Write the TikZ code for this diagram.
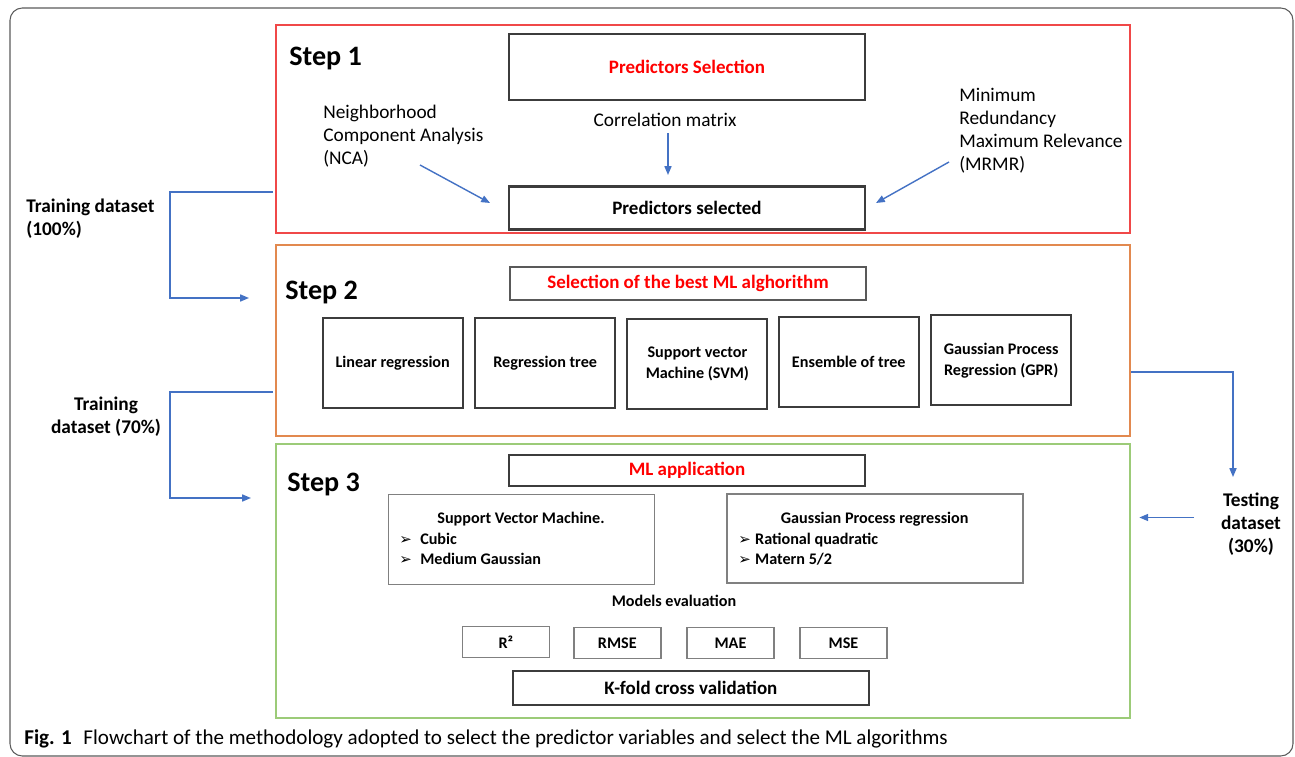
\documentclass[tikz,border=0pt]{standalone}
\usepackage{fontspec}
\setmainfont{Carlito}
\newfontfamily\dejavu{DejaVu Sans}
\usetikzlibrary{arrows.meta}
\definecolor{stepred}{HTML}{F04848}
\definecolor{steporange}{HTML}{E2894F}
\definecolor{stepgreen}{HTML}{9CCB78}
\definecolor{flowblue}{HTML}{4472C4}
\definecolor{boxdark}{HTML}{3C3C3C}
\definecolor{boxgray}{HTML}{808080}
\definecolor{titlered}{HTML}{FF0000}
\definecolor{framegray}{HTML}{5A5A5A}
\newcommand{\arrowbullet}[1]{\makebox[#1][l]{\dejavu\fontsize{8.5}{9}\selectfont ➢}}
\begin{document}
\begin{tikzpicture}[x=0.02cm,y=-0.02cm,
  panel/.style={draw, line width=0.75pt, inner sep=0, minimum width=17.08cm},
  thickbox/.style={draw=boxdark, line width=1.2pt, inner sep=0, minimum width=7.12cm, align=center, font=\bfseries\fontsize{10.8}{13}\selectfont},
  midbox/.style={draw=boxdark!85, line width=1pt, inner sep=0, minimum width=7.12cm, align=center, font=\bfseries\fontsize{10.8}{13}\selectfont},
  algbox/.style={draw=boxdark, line width=1.1pt, minimum width=2.8cm, minimum height=1.8cm, inner sep=0, align=center, font=\bfseries\fontsize{9.2}{12}\selectfont},
  graybox/.style={draw=boxgray, line width=0.9pt, inner sep=0},
  metric/.style={draw=boxgray, line width=0.9pt, minimum width=1.74cm, minimum height=0.62cm, inner sep=0, font=\bfseries\fontsize{9.2}{11}\selectfont},
  plain/.style={inner sep=0, font=\fontsize{11}{13}\selectfont},
  boldtext/.style={inner sep=0, font=\bfseries\fontsize{11}{13}\selectfont},
  steplabel/.style={inner sep=0, anchor=base west, font=\bfseries\fontsize{16}{19}\selectfont},
  smalltext/.style={inner sep=0, font=\bfseries\fontsize{9.2}{11.2}\selectfont},
  flow/.style={draw=flowblue, line width=0.8pt, -{Triangle[length=5pt,width=4pt]}},
]
\useasboundingbox (0,0) rectangle (1295,757);
\draw[framegray, line width=0.6pt, rounded corners=7pt] (10,8) rectangle (1293,756);

% panels
\node[panel, draw=stepred, minimum height=4.16cm] (s1) at (703,129) {};
\node[panel, draw=steporange, minimum height=3.82cm] (s2) at (703,340.5) {};
\node[panel, draw=stepgreen, minimum height=5.48cm] (s3) at (703,581) {};

\node[steplabel] (st1) at (289,66) {Step 1};
\node[steplabel] (st2) at (285,299) {Step 2};
\node[steplabel] (st3) at (287,491) {Step 3};

% step 1
\node[thickbox, minimum height=1.32cm, text=titlered] (psel) at (687,67) {Predictors Selection};
\node[thickbox, minimum height=0.86cm] (pdone) at (687,208) {Predictors selected};
\node[plain] (corr) at (665,120) {Correlation matrix};
\node[plain, anchor=west, align=left] (nca) at (323,136) {Neighborhood\\Component Analysis\\(NCA)};
\node[plain, anchor=west, align=left] (mrmr) at (959,130.5) {Minimum\\Redundancy\\Maximum Relevance\\(MRMR)};
\coordinate (corrtip) at (668,175);
\draw[flow, shorten <=3.4pt] (corr.south -| corrtip) -- (corrtip);
\coordinate (ncaA) at (420,165);
\coordinate (ncaB) at (490,203);
\draw[flow] (ncaA) -- (ncaB);
\coordinate (mrA) at (949,162);
\coordinate (mrB) at (876,203);
\draw[flow] (mrA) -- (mrB);

% side labels and connectors
\node[boldtext, anchor=west, align=left] (tr100) at (26,218.5) {Training dataset\\(100\%)};
\node[boldtext, align=center] (tr70) at (106,417) {Training\\dataset (70\%)};
\node[boldtext, align=center] (test) at (1251,524.5) {Testing\\dataset\\(30\%)};

\coordinate (tr1) at (273,192);
\coordinate (tr1end) at (249,298);
\draw[flow] (tr1) -- ++(-103,0) |- (tr1end);
\coordinate (tr2) at (273,392);
\coordinate (tr2end) at (251,498);
\draw[flow] (tr2) -- ++(-103,0) |- (tr2end);
\coordinate (ts1) at (1131,372);
\coordinate (ts1end) at (1233,477);
\draw[flow] (ts1) -| (ts1end);
\coordinate (tsA) at (1194,517.5);
\draw[flow, shorten >=5pt] (tsA) -- (tsA -| s3.east);

% step 2
\node[midbox, minimum height=0.66cm, text=titlered] (best) at (688,283.5) {Selection of the best ML alghorithm};
\node[algbox] (lr) at (392.7,362.7) {Linear regression};
\node[algbox] (rt) at (545.2,362.7) {Regression tree};
\node[algbox] (svm) at (697.4,364) {Support vector\\Machine (SVM)};
\node[algbox] (ens) at (848.8,362.2) {Ensemble of tree};
\node[algbox] (gpr) at (1001.2,360.4) {Gaussian Process\\Regression (GPR)};

% step 3
\node[thickbox, minimum height=0.62cm, text=titlered] (mlapp) at (687,470.5) {ML application};
\node[graybox, minimum width=5.32cm, minimum height=1.8cm] (svmbox) at (521.4,539.3) {};
\node[graybox, minimum width=5.92cm, minimum height=1.78cm] (gprbox) at (875,538.7) {};
\node[smalltext] (svmt) at (521,519.3) {Support Vector Machine.};
\node[smalltext, anchor=west, align=left] (svml) at (399,549) {\arrowbullet{11.9pt}Cubic\\\arrowbullet{11.9pt}Medium Gaussian};
\node[smalltext] (gprt) at (874.7,519.3) {Gaussian Process regression};
\node[smalltext, anchor=west, align=left] (gprl) at (738,549) {\arrowbullet{9.6pt}Rational quadratic\\\arrowbullet{9.6pt}Matern 5/2};
\node[smalltext] (meval) at (674,601) {Models evaluation};
\node[metric] (r2) at (505.8,642.2) {R²};
\node[metric] (rmse) at (617.3,643) {RMSE};
\node[metric] (mae) at (730.5,643) {MAE};
\node[metric] (mse) at (843.5,643) {MSE};
\node[thickbox, minimum height=0.68cm] (kfold) at (690.8,688) {K-fold cross validation};

% caption
\node[anchor=base west, inner sep=0, font=\fontsize{12}{14}\selectfont] (cap) at (24,744.3) {\textbf{Fig. 1}\hspace{0.55em}Flowchart of the methodology adopted to select the predictor variables and select the ML algorithms};
\end{tikzpicture}
\end{document}
